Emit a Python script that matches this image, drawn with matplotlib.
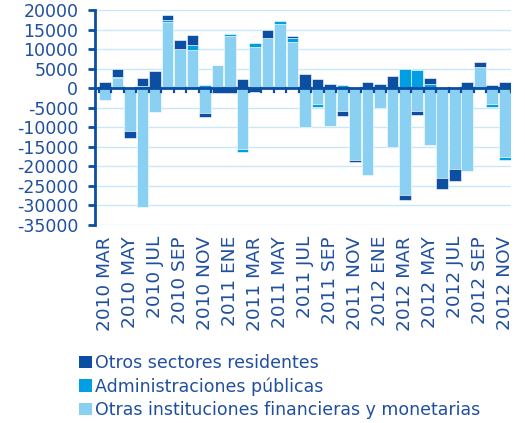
import numpy as np
import matplotlib
matplotlib.use("Agg")
import matplotlib.pyplot as plt
from matplotlib.patches import Patch

months = ["2010 MAR", "2010 ABR", "2010 MAY", "2010 JUN", "2010 JUL", "2010 AGO",
          "2010 SEP", "2010 OCT", "2010 NOV", "2010 DIC", "2011 ENE", "2011 FEB",
          "2011 MAR", "2011 ABR", "2011 MAY", "2011 JUN", "2011 JUL", "2011 AGO",
          "2011 SEP", "2011 OCT", "2011 NOV", "2011 DIC", "2012 ENE", "2012 FEB",
          "2012 MAR", "2012 ABR", "2012 MAY", "2012 JUN", "2012 JUL", "2012 AGO",
          "2012 SEP", "2012 OCT", "2012 NOV"]

otras_inst = [-3000, 2500, -10900, -30400, -6100, 17000, 10000, 9800, -6400, 6000,
              13400, -15500, 10600, 12900, 16400, 11900, -10000, -4100, -9600, -5800,
              -18300, -22300, -5100, -15000, -27400, -5800, -14600, -23100, -20800, -21100,
              5400, -4100, -17600]
admin_pub = [0, 400, 0, 600, 0, 400, 0, 1300, 700, 0,
             400, -850, 850, 0, 700, 850, 0, -700, 0, 700,
             0, 0, 0, 0, 4900, 4700, 1100, 0, 0, 0,
             0, -600, -700]
otros_sect = [1500, 2000, -1900, 2000, 4300, 1400, 2400, 2400, -1100, -1200,
              -1200, 2300, -1100, 2100, -300, 700, 3600, 2300, 1100, -1400,
              -600, 1500, 1100, 3000, -1100, -1000, 1450, -2800, -3000, 1500,
              1200, 700, 1500]

series_names = ["Otros sectores residentes", "Administraciones públicas",
                "Otras instituciones financieras y monetarias"]
yticks = list(range(-35000, 20001, 5000))

c_dark = "#0b4ea2"
c_mid = "#009fe3"
c_light = "#8ad0f2"
txt = "#1f4f9e"

fig = plt.figure(figsize=(5.25, 4.23), dpi=100)
ax = fig.add_axes([95/525, 1-225/423, (511-95)/525, 215/423])

x = np.arange(len(months))
pos_bottom = np.zeros(len(months))
neg_bottom = np.zeros(len(months))
for vals, col in [(otras_inst, c_light), (admin_pub, c_mid), (otros_sect, c_dark)]:
    v = np.array(vals, dtype=float)
    b = np.where(v >= 0, pos_bottom, neg_bottom)
    ax.bar(x, v, bottom=b, width=0.93, color=col, edgecolor="white",
           linewidth=0.4, zorder=3)
    pos_bottom = pos_bottom + np.where(v > 0, v, 0)
    neg_bottom = neg_bottom + np.where(v < 0, v, 0)

ax.set_ylim(-35000, 20000)
ax.set_xlim(-0.8, 32.5)
ax.set_yticks(yticks)
ax.set_yticklabels([str(t) for t in yticks], color=txt, fontsize=12.5)
ax.tick_params(axis="y", length=5, width=2, color=c_dark, pad=7)
ax.grid(axis="y", color="#c8e8f8", linewidth=1, zorder=0)

for s in ["top", "right", "bottom"]:
    ax.spines[s].set_visible(False)
ax.spines["left"].set_color(c_dark)
ax.spines["left"].set_linewidth(2)

# zero line with small ticks at bar boundaries
ax.axhline(0, color=c_dark, linewidth=2, zorder=4)
for b in np.arange(-0.5, len(months), 1.0):
    ax.plot([b, b], [0, -1100], color=c_dark, linewidth=1.6, zorder=4)

ax.set_xticks(x[::2])
ax.set_xticklabels(months[::2], rotation=90, color=txt, fontsize=13.3)
ax.tick_params(axis="x", length=0, pad=8)

handles = [Patch(facecolor=c, edgecolor="none") for c in [c_dark, c_mid, c_light]]
leg = fig.legend(handles, series_names, loc="upper left",
                 bbox_to_anchor=(79/525, 1-354/423), frameon=False,
                 fontsize=12.5, handlelength=0.75, handleheight=0.75,
                 handletextpad=0.2, labelspacing=0.3, borderaxespad=0,
                 borderpad=0)
for t in leg.get_texts():
    t.set_color(txt)

fig.savefig("out.png", dpi=100)
